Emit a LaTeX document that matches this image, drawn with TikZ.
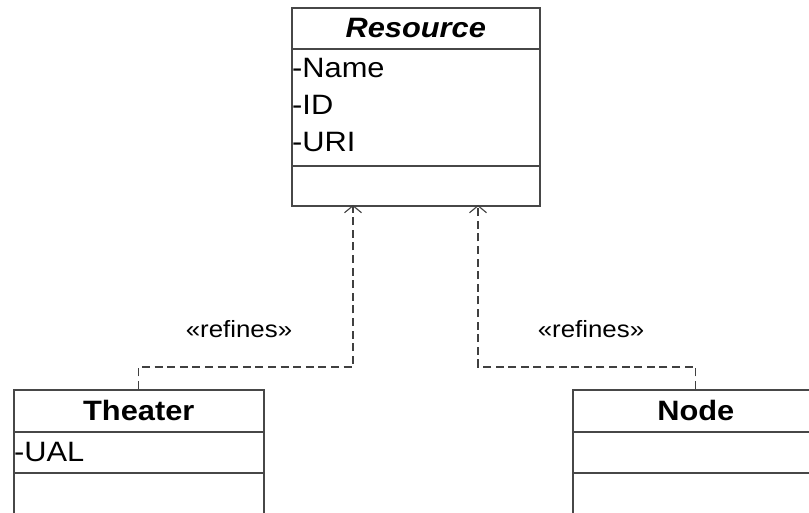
\documentclass[tikz,border=0pt]{standalone}
\usepackage{fontspec}
\setmainfont{Liberation Sans}[FakeStretch=1.1]
\usetikzlibrary{arrows.meta}

\begin{document}
\begin{tikzpicture}[x=1pt,y=-1pt,
  comp/.style={draw=black!72, line width=1.6pt, rectangle, inner sep=0pt, anchor=north west},
  cname/.style={font=\fontsize{28}{32}\selectfont\bfseries},
  attr/.style={anchor=west, inner sep=0pt, font=\fontsize{28}{32}\selectfont},
  stereo/.style={inner sep=0pt, font=\fontsize{23.5}{28}\selectfont},
  dep/.style={draw=black!75, line width=1.3pt, dash pattern=on 8pt off 4.6pt,
              -{Straight Barb[length=7pt,width=17pt,line width=1.1pt]}}
]
\useasboundingbox (0,0) rectangle (809,513);
\fill[white] (0,0) rectangle (809,513);
\begin{scope}
\clip (0,0) rectangle (809,513);

% Resource class: name, attributes, operations
\node[comp, minimum width=248pt, minimum height=41pt] (res-title) at (291,7)
  {\fontsize{28}{32}\selectfont\bfseries\itshape Resource};
\node[comp, minimum width=248pt, minimum height=117pt] (res-attr) at (291,48) {};
\node[comp, minimum width=248pt, minimum height=40pt] (res-ops) at (291,165) {};
\node[attr] (res-a1) at (292,68) {-Name};
\node[attr] (res-a2) at (292,105) {-ID};
\node[attr] (res-a3) at (292,142) {-URI};

% Theater class
\node[comp, cname, minimum width=250pt, minimum height=42pt] (th-title) at (13,389) {Theater};
\node[comp, minimum width=250pt, minimum height=41pt] (th-attr) at (13,431) {};
\node[comp, minimum width=250pt, minimum height=60pt] (th-ops) at (13,472) {};
\node[attr] (th-a1) at (14,452) {-UAL};

% Node class
\node[comp, cname, minimum width=246pt, minimum height=42pt] (nd-title) at (572,389) {Node};
\node[comp, minimum width=246pt, minimum height=41pt] (nd-attr) at (572,431) {};
\node[comp, minimum width=246pt, minimum height=60pt] (nd-ops) at (572,472) {};

% refinement dependencies
\coordinate (res-in1) at (353,205);
\coordinate (res-in2) at (478,205);
\coordinate (bend1) at (353,367);
\coordinate (bend2) at (478,367);
\draw[dep] (th-title.north) |- (bend1) -- (res-in1);
\draw[dep] (nd-title.north) |- (bend2) -- (res-in2);

\node[stereo] (lbl1) at (239,329) {«refines»};
\node[stereo] (lbl2) at (591,329) {«refines»};
\end{scope}
\end{tikzpicture}
\end{document}
